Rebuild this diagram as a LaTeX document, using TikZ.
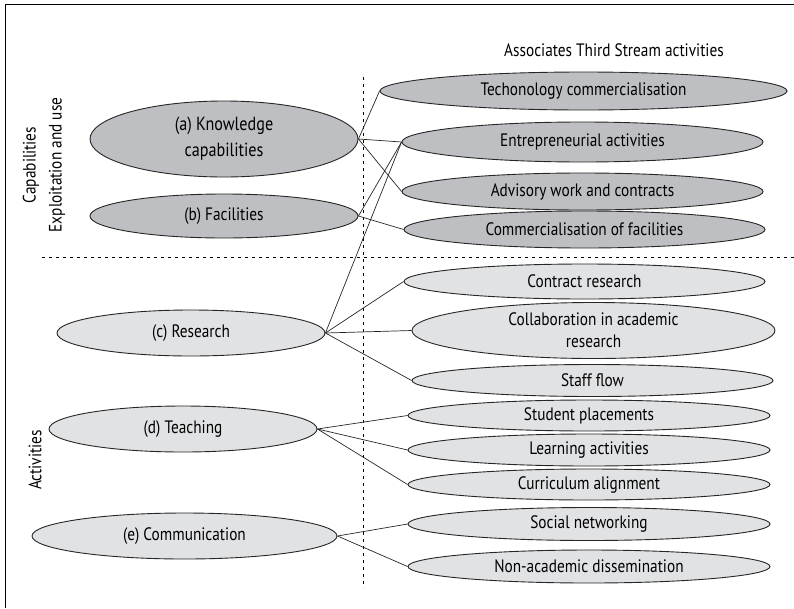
\documentclass[tikz,border=0pt]{standalone}
\usepackage{fontspec}
\setmainfont{PT Sans}[FakeStretch=0.85]
\usetikzlibrary{shapes.geometric}

\definecolor{capgray}{RGB}{190,191,195}
\definecolor{actgray}{RGB}{225,226,228}

\tikzset{
  oval/.style={ellipse,draw=black!85,line width=0.9pt,inner sep=0pt,align=center,font=\fontsize{18}{22}\selectfont},
  capoval/.style={oval,fill=capgray},
  actoval/.style={oval,fill=actgray},
  link/.style={line width=0.7pt,black!85},
  divider/.style={line width=0.7pt,dash pattern=on 3pt off 4pt}
}

\begin{document}
\begin{tikzpicture}[x=1pt,y=-1pt]
  \useasboundingbox (0,0) rectangle (794,608);
  \draw[line width=0.8pt] (5,608) -- (5,4) -- (794,4);
  \draw[divider] (42,257) -- (794,257);
  \draw[divider] (363,77) -- (363,588);

  \node[font=\fontsize{18}{22}\selectfont] (head) at (614,50) {Associates Third Stream activities};
  \node[rotate=90,align=center,font=\fontsize{18}{26}\selectfont] (caplbl) at (44,165) {Capabilities\\Exploitation and use};
  \node[rotate=90,font=\fontsize{18}{22}\selectfont] (actlbl) at (35,460) {Activities};

  \node[capoval,minimum width=268pt,minimum height=76pt,font=\fontsize{19}{26}\selectfont] (ka) at (224,139) {(a) Knowledge\\capabilities};
  \node[capoval,minimum width=268pt,minimum height=44pt] (fa) at (224,216) {(b) Facilities};
  \node[actoval,minimum width=268pt,minimum height=46pt] (re) at (191,333) {(c) Research};
  \node[actoval,minimum width=268pt,minimum height=46pt] (te) at (183,429) {(d) Teaching};
  \node[actoval,minimum width=305pt,minimum height=46pt] (co) at (184.5,536) {(e) Communication};

  \node[capoval,minimum width=407pt,minimum height=38pt] (tc) at (583.5,91) {Techonology commercialisation};
  \node[capoval,minimum width=361pt,minimum height=40pt] (en) at (582.5,142) {Entrepreneurial activities};
  \node[capoval,minimum width=361pt,minimum height=37pt] (ad) at (582.5,191.5) {Advisory work and contracts};
  \node[capoval,minimum width=361pt,minimum height=37pt] (cf) at (584.5,229.5) {Commercialisation of facilities};
  \node[actoval,minimum width=361pt,minimum height=35pt] (cr) at (584.5,281.5) {Contract research};
  \node[actoval,minimum width=363pt,minimum height=56pt] (ca) at (593.5,330.5) {Collaboration in academic\\research};
  \node[actoval,minimum width=361pt,minimum height=32pt] (sf) at (592.5,380.5) {Staff flow};
  \node[actoval,minimum width=362pt,minimum height=31pt] (sp) at (589,415.5) {Student placements};
  \node[actoval,minimum width=362pt,minimum height=32pt] (la) at (589,450) {Learning activities};
  \node[actoval,minimum width=362pt,minimum height=31pt] (cu) at (589,484.5) {Curriculum alignment};
  \node[actoval,minimum width=362pt,minimum height=33pt] (sn) at (589,524) {Social networking};
  \node[actoval,minimum width=362pt,minimum height=33pt] (na) at (589,566.5) {Non-academic dissemination};

  \draw[link] (ka.east) -- (tc.west);
  \draw[link] (ka.east) -- (en.west);
  \draw[link] (ka.east) -- (ad.west);
  \draw[link] (fa.east) -- (en.west);
  \draw[link] (fa.east) -- (cf.west);
  \draw[link] (re.east) -- (en.west);
  \draw[link] (re.east) -- (cr.west);
  \draw[link] (re.east) -- (ca.west);
  \draw[link] (re.east) -- (sf.west);
  \draw[link] (te.east) -- (sp.west);
  \draw[link] (te.east) -- (la.west);
  \draw[link] (te.east) -- (cu.west);
  \draw[link] (co.east) -- (sn.west);
  \draw[link] (co.east) -- (na.west);
\end{tikzpicture}
\end{document}
